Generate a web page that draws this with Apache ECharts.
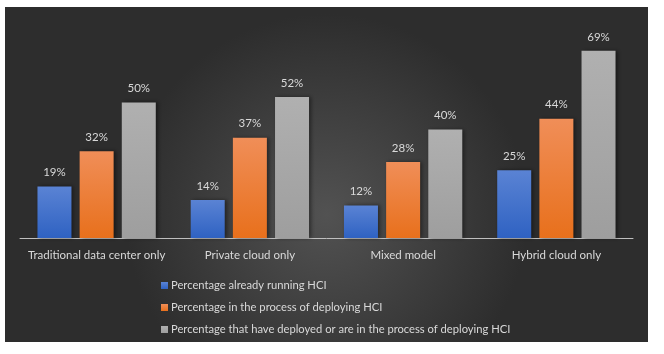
<!DOCTYPE html>
<html>
<head>
<meta charset="utf-8">
<script src="https://cdn.jsdelivr.net/npm/echarts@6/dist/echarts.min.js"></script>
<style>
  html, body { margin: 0; padding: 0; background: #fff; }
  #chart { width: 664px; height: 354px; }
</style>
</head>
<body>
<div id="chart"></div>
<script>
var categories = ["Traditional data center only", "Private cloud only", "Mixed model", "Hybrid cloud only"];
var seriesNames = [
  "Percentage already running HCI",
  "Percentage in the process of deploying HCI",
  "Percentage that have deployed or are in the process of deploying HCI"
];
var runningHCI = [19, 14, 12, 25];
var deployingHCI = [32, 37, 28, 44];
var deployedOrDeploying = [50, 52, 40, 69];

var chart = echarts.init(document.getElementById("chart"));

function grad(top, bottom) {
  return new echarts.graphic.LinearGradient(0, 0, 0, 1, [
    { offset: 0, color: top },
    { offset: 1, color: bottom }
  ]);
}

function barSeries(name, data, top, bottom) {
  return {
    name: name,
    type: "bar",
    data: data,
    barWidth: 34,
    barGap: "24%",
    itemStyle: {
      color: grad(top, bottom),
      shadowColor: "rgba(0,0,0,0.45)",
      shadowBlur: 4,
      shadowOffsetX: 2,
      shadowOffsetY: 0
    },
    label: {
      show: true,
      position: "top",
      distance: 8,
      formatter: "{c}%",
      color: "#d9d9d9",
      fontSize: 11.5,
      fontFamily: "Lato"
    }
  };
}

var option = {
  backgroundColor: "#fff",
  animation: false,
  graphic: [
    {
      type: "rect",
      z: -10,
      silent: true,
      shape: { x: 5, y: 7, width: 643, height: 335 },
      style: {
        fill: new echarts.graphic.RadialGradient(0.5, 0.62, 0.6, [
          { offset: 0, color: "#525252" },
          { offset: 1, color: "#2d2d2d" }
        ])
      }
    }
  ],
  grid: { left: 20, right: 31, top: 21, bottom: 116 },
  legend: {
    orient: "vertical",
    left: 156,
    top: 275,
    itemWidth: 7,
    itemHeight: 7,
    itemGap: 11,
    icon: "rect",
    textStyle: { color: "#d9d9d9", fontSize: 11.2, fontFamily: "Lato", padding: [0, 0, 0, -2] },
    data: seriesNames
  },
  xAxis: {
    type: "category",
    data: categories,
    axisLine: { lineStyle: { color: "#bfbfbf", width: 1 } },
    axisTick: { show: false },
    axisLabel: { color: "#d9d9d9", fontSize: 11.5, fontFamily: "Lato", margin: 11, interval: 0 }
  },
  yAxis: {
    type: "value",
    min: 0,
    max: 80,
    show: false,
    splitLine: { show: false }
  },
  series: [
    barSeries(seriesNames[0], runningHCI, "#5a83d4", "#2f62c2"),
    barSeries(seriesNames[1], deployingHCI, "#f08e58", "#e8701c"),
    barSeries(seriesNames[2], deployedOrDeploying, "#b0b0b0", "#9e9e9e")
  ]
};

chart.setOption(option);
</script>
</body>
</html>
